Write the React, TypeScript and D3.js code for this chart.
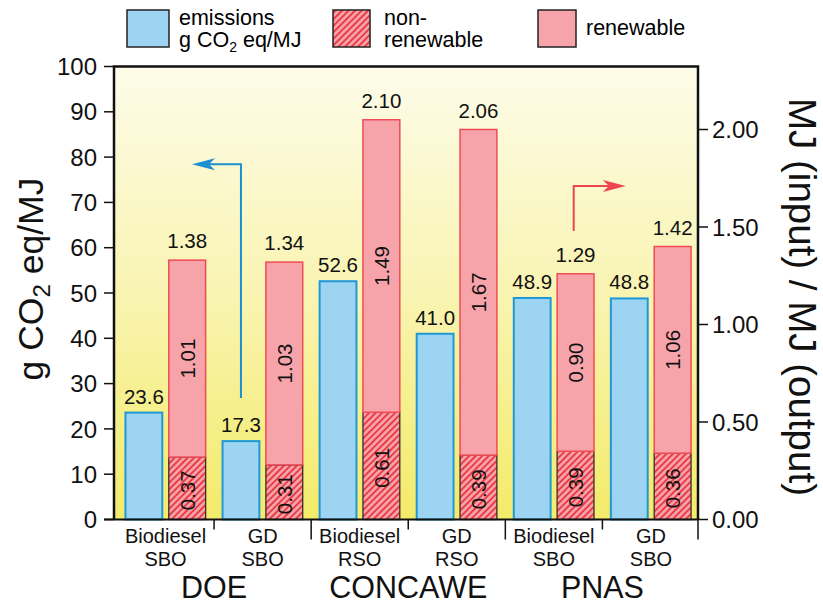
import React from 'react';
import * as d3 from 'd3';

const subTop = ['Biodiesel', 'GD', 'Biodiesel', 'GD', 'Biodiesel', 'GD'];
const subBottom = ['SBO', 'SBO', 'RSO', 'RSO', 'SBO', 'SBO'];
const groups = ['DOE', 'CONCAWE', 'PNAS'];
const emissions = [23.6, 17.3, 52.6, 41.0, 48.9, 48.8];
const emissionLabels = ['23.6', '17.3', '52.6', '41.0', '48.9', '48.8'];
const nonRenewableBar = [0.32, 0.28, 0.55, 0.33, 0.35, 0.34];
const totalBar = [1.33, 1.32, 2.05, 2.0, 1.26, 1.4];
const nonRenewableLabels = ['0.37', '0.31', '0.61', '0.39', '0.39', '0.36'];
const renewableLabels = ['1.01', '1.03', '1.49', '1.67', '0.90', '1.06'];
const totalLabels = ['1.38', '1.34', '2.10', '2.06', '1.29', '1.42'];
const leftTicks = [0, 10, 20, 30, 40, 50, 60, 70, 80, 90, 100];
const rightTicks = [0, 0.5, 1, 1.5, 2];

const FONT = '"Liberation Sans", Arial, Helvetica, sans-serif';
const BLUE_FILL = '#9dd4f1';
const BLUE_STROKE = '#1f98d8';
const RED_FILL = '#f6a4aa';
const RED_STROKE = '#ef4b56';
const HATCH_LINE = '#e9343f';
const ARROW_BLUE = '#1b8fd2';
const ARROW_RED = '#ef4550';

export default function App() {
  const plotL = 114;
  const plotR = 698;
  const plotT = 66.5;
  const plotB = 519.5;
  const keys = subTop.map((_, i) => String(i));
  const x = d3.scaleBand<string>().domain(keys).range([117, 699.5]);
  const xi = d3
    .scaleBand<string>()
    .domain(['em', 'en'])
    .range([0, x.bandwidth()])
    .paddingInner(0.15)
    .paddingOuter(0.195);
  const yL = d3.scaleLinear().domain([0, 100]).range([plotB, plotT]);
  const yR = d3.scaleLinear().domain([0, 2]).range([plotB, 129.5]);
  const bw = xi.bandwidth();

  const arrowHead = (tx: number, ty: number, dir: number, color: string) => {
    const L = 23;
    const H = 6;
    const notch = 6;
    const pts = [
      [tx, ty],
      [tx + dir * L, ty - H],
      [tx + dir * (L - notch), ty],
      [tx + dir * L, ty + H],
    ];
    return <polygon points={pts.map((p) => p.join(',')).join(' ')} fill={color} />;
  };

  // blue arrow (points to left axis)
  const bArrowX = x('1')! + xi('em')! + bw * 0.5;
  const bTop = yL(78.4);
  const bBot = yL(26.8);
  const bTip = x('0')! + xi('en')! + bw * 0.63;
  // red arrow (points to right axis)
  const rArrowX = x('4')! + xi('en')! + bw * 0.45;
  const rTop = yR(1.71);
  const rBot = yR(1.48);
  const rTip = x('5')! + xi('em')! + 15;

  return (
    <svg
      width={823}
      height={605}
      style={{ position: 'absolute', left: 0, top: 0, display: 'block', background: '#fff' }}
      fontFamily={FONT}
    >
      <defs>
        <linearGradient id="bg" x1="0" y1="0" x2="0" y2="1">
          <stop offset="0%" stopColor="#fdfce9" />
          <stop offset="50%" stopColor="#f9f4b2" />
          <stop offset="100%" stopColor="#f3eb69" />
        </linearGradient>
        <pattern
          id="hatch"
          patternUnits="userSpaceOnUse"
          width={4.6}
          height={4.6}
          patternTransform="rotate(45)"
        >
          <rect width={4.6} height={4.6} fill={RED_FILL} />
          <line x1={1} y1={0} x2={1} y2={4.6} stroke={HATCH_LINE} strokeWidth={1.8} />
        </pattern>
      </defs>

      {/* legend */}
      <g>
        <rect x={127} y={10} width={42} height={37} fill={BLUE_FILL} stroke="#222" strokeWidth={1.5} />
        <text x={179} y={25} fontSize={21.5}>emissions</text>
        <text x={179} y={47} fontSize={21.5}>
          g CO<tspan fontSize={14} dy={5}>2</tspan>
          <tspan dy={-5}> eq/MJ</tspan>
        </text>
        <rect x={333} y={10} width={37} height={37} fill="url(#hatch)" stroke="#222" strokeWidth={1.5} />
        <text x={384} y={25} fontSize={21.5}>non-</text>
        <text x={384} y={47} fontSize={21.5}>renewable</text>
        <rect x={538} y={10} width={38} height={37} fill={RED_FILL} stroke="#222" strokeWidth={1.5} />
        <text x={586} y={35} fontSize={21.5}>renewable</text>
      </g>

      {/* plot background */}
      <rect x={plotL} y={plotT} width={plotR - plotL} height={plotB - plotT} fill="url(#bg)" />

      {/* bars */}
      {keys.map((k, i) => {
        const bx = x(k)! + xi('em')!;
        const rx = x(k)! + xi('en')!;
        const yNon = yR(nonRenewableBar[i]);
        const yTot = yR(totalBar[i]);
        return (
          <g key={k}>
            <rect
              x={bx}
              y={yL(emissions[i])}
              width={bw}
              height={plotB - yL(emissions[i])}
              fill={BLUE_FILL}
              stroke={BLUE_STROKE}
              strokeWidth={2}
            />
            <rect x={rx} y={yNon} width={bw} height={plotB - yNon} fill="url(#hatch)" stroke="#3a2a2a" strokeWidth={1.3} />
            <rect x={rx} y={yTot} width={bw} height={yNon - yTot} fill={RED_FILL} stroke={RED_STROKE} strokeWidth={1.5} />
            <text x={bx + bw / 2} y={yL(emissions[i]) - 9} fontSize={20.5} textAnchor="middle" fill="#111">
              {emissionLabels[i]}
            </text>
            <text x={rx + bw / 2} y={yTot - 12} fontSize={20.5} textAnchor="middle" fill="#111">
              {totalLabels[i]}
            </text>
            <text
              transform={`translate(${rx + bw / 2},${(yTot + yNon) / 2}) rotate(-90)`}
              fontSize={20.5}
              textAnchor="middle"
              dy="0.36em"
              fill="#111"
            >
              {renewableLabels[i]}
            </text>
            <text
              transform={`translate(${rx + bw / 2},${(yNon + plotB) / 2 + 2}) rotate(-90)`}
              fontSize={20.5}
              textAnchor="middle"
              dy="0.36em"
              fill="#111"
            >
              {nonRenewableLabels[i]}
            </text>
            <text x={x(k)! + x.bandwidth() / 2} y={543} fontSize={20} textAnchor="middle" fill="#111">
              {subTop[i]}
            </text>
            <text x={x(k)! + x.bandwidth() / 2} y={566} fontSize={20} textAnchor="middle" fill="#111">
              {subBottom[i]}
            </text>
          </g>
        );
      })}

      {/* group labels */}
      {groups.map((g, gi) => (
        <text key={g} x={x(String(gi * 2 + 1))!} y={598} fontSize={30.5} textAnchor="middle" fill="#111">
          {g}
        </text>
      ))}

      {/* arrows */}
      <g fill="none" strokeWidth={2}>
        <polyline
          points={`${bArrowX},${bBot} ${bArrowX},${bTop} ${bTip + 15},${bTop}`}
          stroke={ARROW_BLUE}
        />
        {arrowHead(bTip, bTop, 1, ARROW_BLUE)}
        <polyline
          points={`${rArrowX},${rBot} ${rArrowX},${rTop} ${rTip - 15},${rTop}`}
          stroke={ARROW_RED}
        />
        {arrowHead(rTip, rTop, -1, ARROW_RED)}
      </g>

      {/* frame */}
      <path
        d={`M${plotL},${plotB} V${plotT} H${plotR} V${plotB}`}
        fill="none"
        stroke="#111"
        strokeWidth={2.5}
      />
      <line x1={104} x2={plotR} y1={plotB} y2={plotB} stroke="#111" strokeWidth={2} />

      {/* left axis */}
      {leftTicks.map((t) => (
        <g key={t}>
          <line x1={104} x2={plotL} y1={yL(t)} y2={yL(t)} stroke="#111" strokeWidth={1.5} />
          <text x={97} y={yL(t)} dy="0.36em" fontSize={24} textAnchor="end" fill="#111">
            {t}
          </text>
        </g>
      ))}
      {/* right axis */}
      {rightTicks.map((t) => (
        <g key={t}>
          <line x1={plotR} x2={plotR + 10} y1={yR(t)} y2={yR(t)} stroke="#111" strokeWidth={1.5} />
          <text x={712} y={yR(t)} dy="0.36em" fontSize={24} textAnchor="start" fill="#111">
            {d3.format('.2f')(t)}
          </text>
        </g>
      ))}
      {/* bottom ticks */}
      {keys.slice(1).map((k, i) => {
        const long = (i + 1) % 2 === 0;
        return (
          <line key={k} x1={x(k)!} x2={x(k)!} y1={plotB} y2={plotB + (long ? 20 : 10)} stroke="#111" strokeWidth={1.5} />
        );
      })}
      <line x1={plotR} x2={plotR} y1={plotB} y2={plotB + 20} stroke="#111" strokeWidth={1.5} />

      {/* axis titles */}
      <text transform="translate(43,279) rotate(-90)" fontSize={35.5} textAnchor="middle" fill="#111">
        g CO<tspan fontSize={24} dy={7}>2</tspan>
        <tspan dy={-7}> eq/MJ</tspan>
      </text>
      <text transform="translate(789,297) rotate(90)" fontSize={38.5} textAnchor="middle" fill="#111">
        MJ (input) / MJ (output)
      </text>
    </svg>
  );
}
